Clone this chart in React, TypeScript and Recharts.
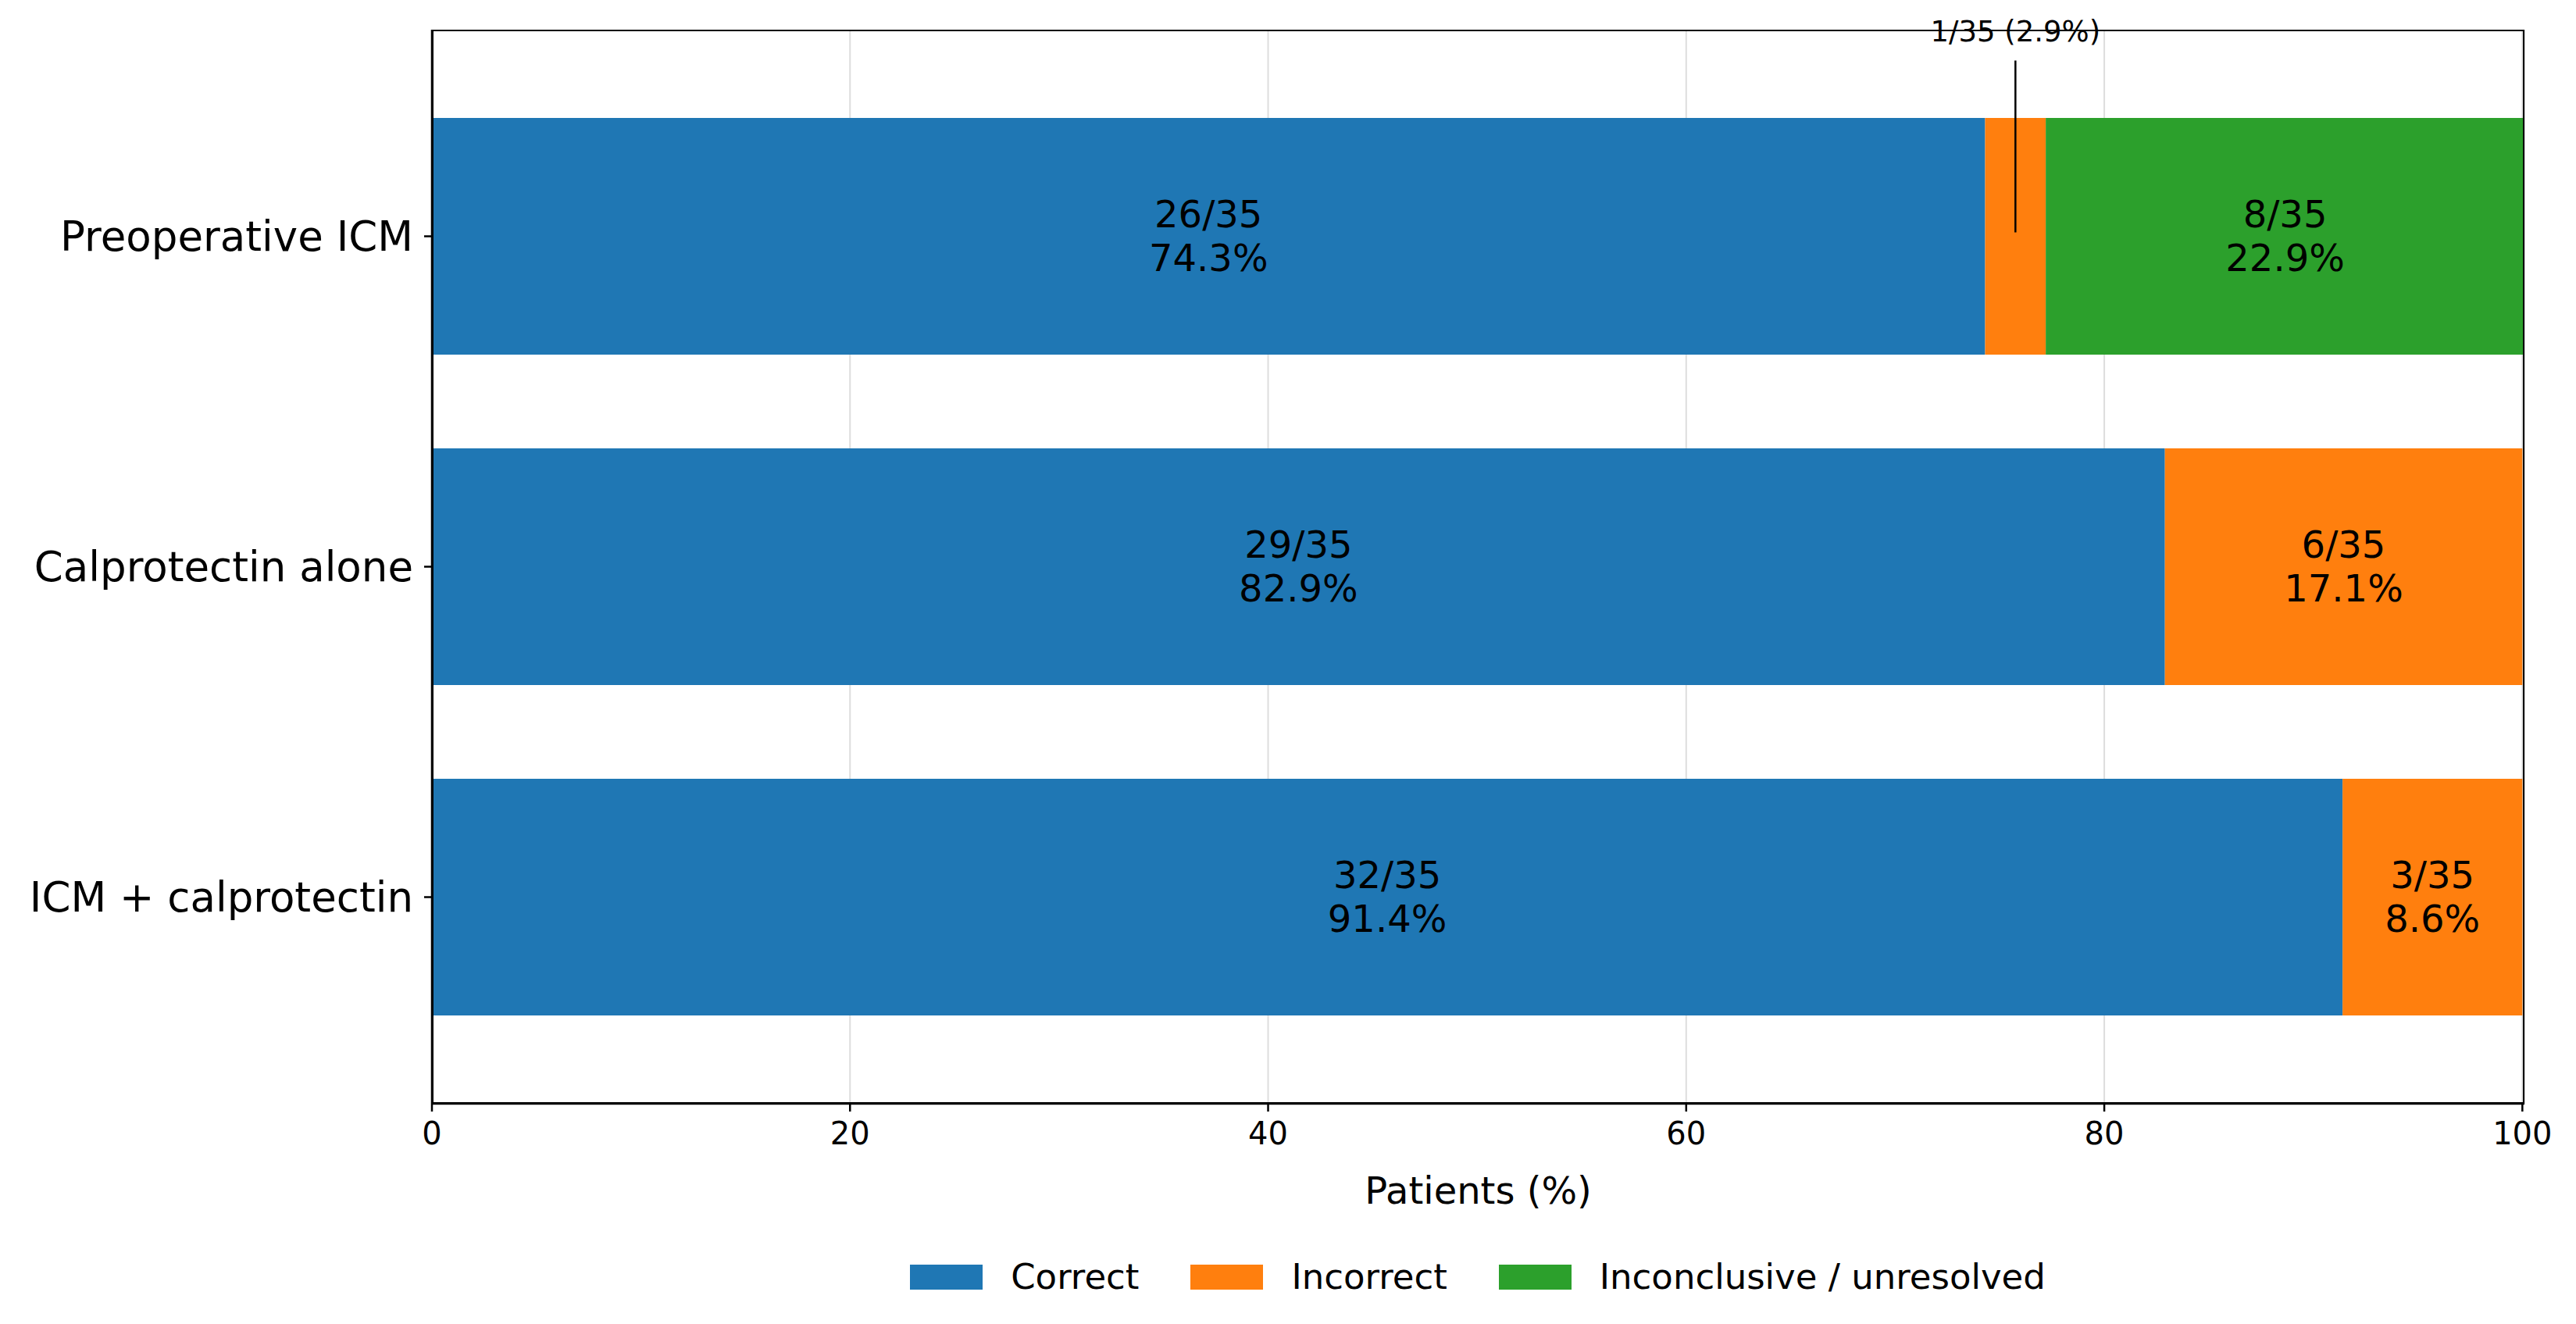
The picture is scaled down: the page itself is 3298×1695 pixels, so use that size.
import { BarChart, Bar, XAxis, YAxis, CartesianGrid, LabelList } from "recharts";

const categories = ["Preoperative ICM", "Calprotectin alone", "ICM + calprotectin"];
const correctPct = [74.3, 82.9, 91.4];
const incorrectPct = [2.9, 17.1, 8.6];
const inconclusivePct = [22.9, 0, 0];
const correctN = [26, 29, 32];
const incorrectN = [1, 6, 3];
const inconclusiveN = [8, 0, 0];
const total = 35;
const xTicks = [0, 20, 40, 60, 80, 100];

const FONT = "DejaVu Sans, sans-serif";
const COLORS = { correct: "#1f77b4", incorrect: "#ff7f0e", inconclusive: "#2ca02c" };

const data = categories.map((name, i) => ({
  name,
  correct: correctPct[i],
  incorrect: incorrectPct[i],
  inconclusive: inconclusivePct[i],
  correctN: correctN[i],
  incorrectN: incorrectN[i],
  inconclusiveN: inconclusiveN[i],
}));

function makeLabel(countKey: "correctN" | "incorrectN" | "inconclusiveN", pctKey: "correct" | "incorrect" | "inconclusive") {
  return (props: any) => {
    const { x, y, width, height, index } = props;
    const row = data[index];
    const pct = row[pctKey];
    const n = row[countKey];
    if (!pct) return null;
    const cx = x + width / 2;
    const cy = y + height / 2;
    if (pct < 5) {
      return (
        <g>
          <line x1={cx} y1={cy - 5} x2={cx} y2={cy - 225} stroke="#000" strokeWidth={2.5} />
          <text x={cx} y={cy - 262} textAnchor="middle" dominantBaseline="central" fontSize={37} fontFamily={FONT} fill="#000">
            {`${n}/${total} (${pct.toFixed(1)}%)`}
          </text>
        </g>
      );
    }
    return (
      <text x={cx} textAnchor="middle" fontSize={48} fontFamily={FONT} fill="#000">
        <tspan x={cx} y={cy - 12}>{`${n}/${total}`}</tspan>
        <tspan x={cx} y={cy + 44}>{`${pct.toFixed(1)}%`}</tspan>
      </text>
    );
  };
}

const legendItems = [
  { label: "Correct", color: COLORS.correct },
  { label: "Incorrect", color: COLORS.incorrect },
  { label: "Inconclusive / unresolved", color: COLORS.inconclusive },
];

export default function App() {
  return (
    <div style={{ position: "relative", width: 3282 }}>
      <BarChart
        width={3282}
        height={1560}
        data={data}
        layout="vertical"
        margin={{ top: 30, right: 58, left: 20, bottom: 5 }}
        barCategoryGap={0}
      >
        <CartesianGrid horizontal={false} stroke="#dddddd" strokeWidth={2} />
        <XAxis
          type="number"
          domain={[0, 100]}
          ticks={xTicks}
          height={150}
          tickSize={10}
          tickMargin={14}
          tick={{ fontSize: 40, fontFamily: FONT, fill: "#000" }}
          axisLine={{ stroke: "#000", strokeWidth: 2.5 }}
          tickLine={{ stroke: "#000", strokeWidth: 2.5 }}
          label={{ value: "Patients (%)", position: "insideBottom", offset: 22, fontSize: 48, fontFamily: FONT, fill: "#000" }}
        />
        <YAxis
          type="category"
          dataKey="name"
          width={525}
          padding={{ top: 53, bottom: 53 }}
          tickSize={10}
          tickMargin={14}
          tick={{ fontSize: 53, fontFamily: FONT, fill: "#000" }}
          axisLine={{ stroke: "#000", strokeWidth: 2.5 }}
          tickLine={{ stroke: "#000", strokeWidth: 2.5 }}
        />
        <Bar dataKey="correct" stackId="a" fill={COLORS.correct} barSize={303} isAnimationActive={false}>
          <LabelList dataKey="correct" content={makeLabel("correctN", "correct")} />
        </Bar>
        <Bar dataKey="incorrect" stackId="a" fill={COLORS.incorrect} barSize={303} isAnimationActive={false}>
          <LabelList dataKey="incorrect" content={makeLabel("incorrectN", "incorrect")} />
        </Bar>
        <Bar dataKey="inconclusive" stackId="a" fill={COLORS.inconclusive} barSize={303} isAnimationActive={false}>
          <LabelList dataKey="inconclusive" content={makeLabel("inconclusiveN", "inconclusive")} />
        </Bar>
      </BarChart>
      <div
        style={{
          position: "absolute",
          left: 545,
          top: 30,
          width: 2679,
          height: 1375,
          boxSizing: "border-box",
          border: "2.5px solid #000",
          pointerEvents: "none",
        }}
      />
      <div
        style={{
          display: "flex",
          justifyContent: "center",
          gap: 66,
          fontFamily: FONT,
          fontSize: 45,
          paddingLeft: 486,
          marginTop: 40,
        }}
      >
        {legendItems.map((it) => (
          <div key={it.label} style={{ display: "flex", alignItems: "center", gap: 36 }}>
            <div style={{ width: 93, height: 32, background: it.color }} />
            <span>{it.label}</span>
          </div>
        ))}
      </div>
    </div>
  );
}
